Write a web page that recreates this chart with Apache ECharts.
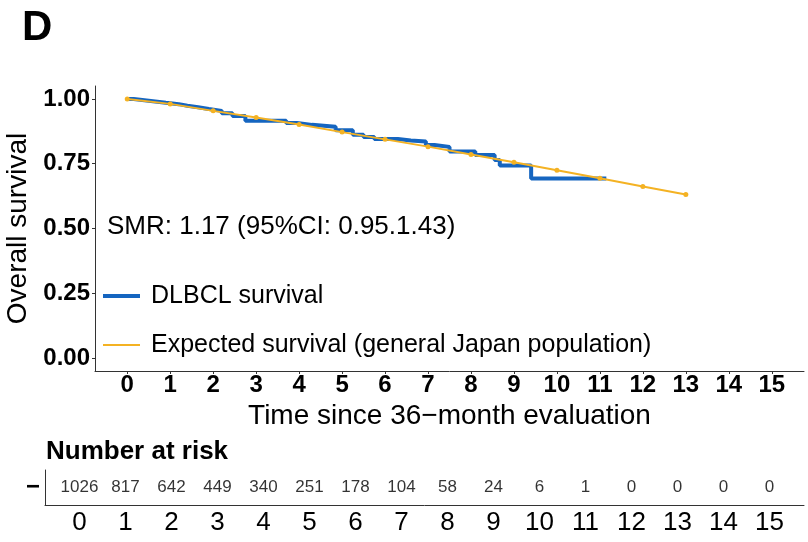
<!DOCTYPE html>
<html>
<head>
<meta charset="utf-8">
<script src="https://cdn.jsdelivr.net/npm/echarts@6/dist/echarts.min.js"></script>
<style>html,body{margin:0;padding:0;background:#fff}#c{width:808px;height:542px}</style>
</head>
<body>
<div id="c"></div>
<script>
// ---- data ----
const years = [0,1,2,3,4,5,6,7,8,9,10,11,12,13,14,15];
const riskCounts = [1026,817,642,449,340,251,178,104,58,24,6,1,0,0,0,0];
const expectedTimes = [0,1,2,3,4,5,6,7,8,9,10,11,12,13];
const expectedSurv = [1.000,0.981,0.954,0.928,0.901,0.872,0.844,0.816,0.786,0.756,0.725,0.694,0.662,0.631];
const kmTimes = [0,0.15,0.4,0.65,0.9,1.2,1.4,1.65,1.9,2.2,2.45,2.75,3.7,3.95,4.3,4.85,5.25,5.5,5.75,6.3,6.6,6.95,7.15,7.5,8.1,8.55,8.67,9.4,11.15];
const kmSurv = [1.000,0.995,0.990,0.985,0.980,0.974,0.968,0.961,0.954,0.945,0.934,0.916,0.907,0.900,0.893,0.879,0.862,0.853,0.845,0.840,0.836,0.822,0.815,0.797,0.784,0.764,0.743,0.693,0.693];
const yTicks = [0,0.25,0.5,0.75,1];
const kmName = 'DLBCL survival';
const expName = 'Expected survival (general Japan population)';
const smrText = 'SMR: 1.17 (95%CI: 0.95.1.43)';

const FONT = '"Liberation Sans", Arial, Helvetica, sans-serif';
const BLUE = '#1565C0';
const ORANGE = '#F4B223';

const chart = echarts.init(document.getElementById('c'), null, {renderer:'canvas'});
const axisLineStyle = {color:'#333', width:1};

chart.setOption({
  animation:false,
  backgroundColor:'#fff',
  title:[
    {text:'D', left:22, top:7, padding:0, textStyle:{fontFamily:FONT, fontSize:42, fontWeight:'bold', color:'#000'}},
    {text:'Number at risk', left:46, top:437, padding:0, textStyle:{fontFamily:FONT, fontSize:26, fontWeight:'bold', color:'#000', lineHeight:30}}
  ],
  graphic:[
    {type:'text', left:107, top:214, style:{text:smrText, font:'26px ' + FONT, fill:'#000'}}
  ],
  legend:[
    {data:[kmName], left:103, top:282, padding:0, orient:'vertical', selectedMode:false,
     icon:'rect', itemWidth:37, itemHeight:4,
     textStyle:{fontFamily:FONT, fontSize:25, color:'#000', lineHeight:28, padding:[0,0,0,6]}},
    {data:[expName], left:103, top:331, padding:0, orient:'vertical', selectedMode:false,
     icon:'rect', itemWidth:37, itemHeight:2,
     textStyle:{fontFamily:FONT, fontSize:25, color:'#000', lineHeight:28, padding:[0,0,0,6]}}
  ],
  grid:[
    {left:95, right:4, top:86, height:285, outerBoundsMode:'none', containLabel:false},
    {left:45, right:4, top:470, height:35, outerBoundsMode:'none', containLabel:false}
  ],
  xAxis:[
    {type:'value', gridIndex:0, min:-0.75, max:15.75,
     name:'Time since 36\u2212month evaluation', nameLocation:'middle', nameGap:27,
     nameTextStyle:{fontFamily:FONT, fontSize:28, color:'#000'},
     axisLine:{show:true, onZero:false, lineStyle:axisLineStyle},
     axisTick:{show:true, length:3, customValues:years, lineStyle:axisLineStyle},
     axisLabel:{customValues:years, margin:2, fontFamily:FONT, fontSize:24, fontWeight:'bold', color:'#000'},
     splitLine:{show:false}},
    {type:'value', gridIndex:1, min:-0.75, max:15.75,
     axisLine:{show:true, onZero:false, lineStyle:axisLineStyle},
     axisTick:{show:false},
     axisLabel:{customValues:years, margin:5, fontFamily:FONT, fontSize:26, color:'#000'},
     splitLine:{show:false}}
  ],
  yAxis:[
    {type:'value', gridIndex:0, min:-0.05, max:1.05,
     name:'Overall survival', nameLocation:'middle', nameGap:54,
     nameTextStyle:{fontFamily:FONT, fontSize:28, color:'#000'},
     axisLine:{show:true, onZero:false, lineStyle:axisLineStyle},
     axisTick:{show:true, length:3, customValues:yTicks, lineStyle:axisLineStyle},
     axisLabel:{customValues:yTicks, margin:5, fontFamily:FONT, fontSize:24, fontWeight:'bold', color:'#000',
       formatter:v=>v.toFixed(2)},
     splitLine:{show:false}},
    {type:'category', gridIndex:1, data:['\u2212'],
     axisLine:{show:true, onZero:false, lineStyle:axisLineStyle},
     axisTick:{show:false},
     axisLabel:{margin:5, fontFamily:FONT, fontSize:24, fontWeight:'bold', color:'#000'},
     splitLine:{show:false}}
  ],
  series:[
    {name:kmName, type:'line', xAxisIndex:0, yAxisIndex:0, step:'end', showSymbol:false, symbol:'none',
     data:kmTimes.map((t,i)=>[t,kmSurv[i]]),
     lineStyle:{color:BLUE, width:4}, itemStyle:{color:BLUE}, z:2},
    {name:expName, type:'line', xAxisIndex:0, yAxisIndex:0, symbol:'circle', symbolSize:5, showSymbol:true,
     data:expectedTimes.map((t,i)=>[t,expectedSurv[i]]),
     lineStyle:{color:ORANGE, width:2}, itemStyle:{color:ORANGE}, z:3},
    {name:'risk', type:'scatter', xAxisIndex:1, yAxisIndex:1, symbolSize:1,
     itemStyle:{color:'rgba(0,0,0,0)'},
     data:years.map((t,i)=>[t,0]),
     label:{show:true, position:'inside', fontFamily:FONT, fontSize:17, color:'#000',
       formatter:p=>String(riskCounts[p.dataIndex])},
     silent:true}
  ]
});
</script>
</body>
</html>
